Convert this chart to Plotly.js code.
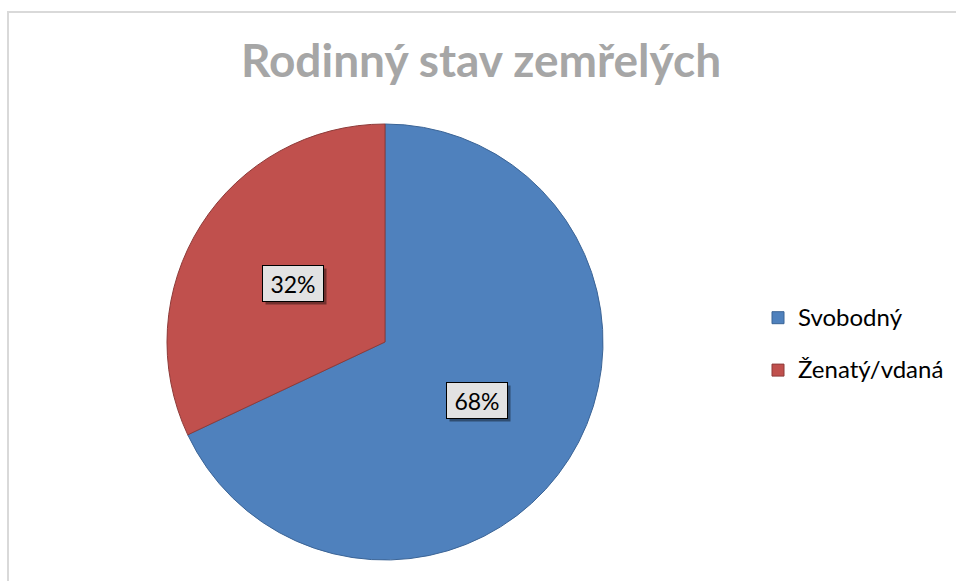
<!DOCTYPE html>
<html>
<head>
<meta charset="utf-8">
<script src="https://cdn.plot.ly/plotly-3.0.1.min.js"></script>
<style>html,body{margin:0;padding:0;background:#fff;}#chart{width:956px;height:581px;}</style>
</head>
<body>
<div id="chart"></div>
<script>
const categories = ["Svobodný", "Ženatý/vdaná"];
const values = [68, 32];
const colors = ["#4F81BD", "#C0504D"];
const edgeColors = ["#3B6496", "#8E3B39"];
const titleText = "Rodinný stav zemřelých";

const W = 956, H = 581;
const cxPx = 385, cyPx = 342, rPx = 218;
const domX = [(cxPx - rPx) / W, (cxPx + rPx) / W];
const domY = [(H - (cyPx + rPx)) / H, (H - (cyPx - rPx)) / H];
const FONT = "Lato, 'Open Sans', sans-serif";

const total = values.reduce((a, b) => a + b, 0);
const annotations = [];
let startDeg = 0; // clockwise from 12 o'clock
values.forEach((v, i) => {
  const span = v / total * 360;
  const mid = startDeg + span / 2;
  startDeg += span;
  const rad = mid * Math.PI / 180;
  const px = cxPx + 0.5 * rPx * Math.sin(rad);
  const py = cyPx - 0.5 * rPx * Math.cos(rad);
  const txt = Math.round(v / total * 100) + "%";
  const base = {
    x: px / W, y: 1 - py / H, xref: "paper", yref: "paper",
    xanchor: "center", yanchor: "middle",
    showarrow: false,
    font: {family: FONT, size: 23, color: "#000"},
    width: 56, height: 31, borderpad: 2, borderwidth: 1
  };
  annotations.push(Object.assign({}, base, {text: " ", xshift: 3, yshift: -3, bgcolor: "rgba(0,0,0,0.4)", bordercolor: "rgba(0,0,0,0)"}));
  annotations.push(Object.assign({}, base, {text: txt, bgcolor: "#E2E2E2", bordercolor: "#000"}));
});

const legendLabels = categories.map(c => '<span style="font-size:24px;baseline-shift:7px">' + c + '</span>');

const data = [{
  type: "pie",
  labels: legendLabels,
  values: values,
  sort: false,
  direction: "clockwise",
  rotation: 0,
  marker: {colors: colors, line: {color: edgeColors, width: 1}},
  textinfo: "none",
  hoverinfo: "percent",
  domain: {x: domX, y: domY}
}];

const layout = {
  width: W, height: H,
  margin: {l: 0, r: 0, t: 0, b: 0},
  paper_bgcolor: "#fff",
  showlegend: true,
  title: {
    text: "<b>" + titleText + "</b>",
    font: {family: FONT, size: 46, color: "#A6A6A6"},
    x: 481 / W, xanchor: "center", y: 1 - 61 / H, yanchor: "middle", xref: "paper", yref: "paper"
  },
  legend: {
    x: 758 / W, y: 1 - 344 / H, xanchor: "left", yanchor: "middle",
    font: {family: FONT, size: 38, color: "#000"},
    itemwidth: 30, tracegroupgap: 0, bgcolor: "rgba(0,0,0,0)"
  },
  annotations: annotations,
  shapes: [{
    type: "rect", xref: "paper", yref: "paper",
    x0: 8 / W, x1: 1.02, y0: -0.02, y1: 1 - 12 / H,
    line: {color: "#D9D9D9", width: 2}, fillcolor: "rgba(0,0,0,0)", layer: "below"
  }]
};

Plotly.newPlot("chart", data, layout, {displayModeBar: false, staticPlot: true});
</script>
</body>
</html>
